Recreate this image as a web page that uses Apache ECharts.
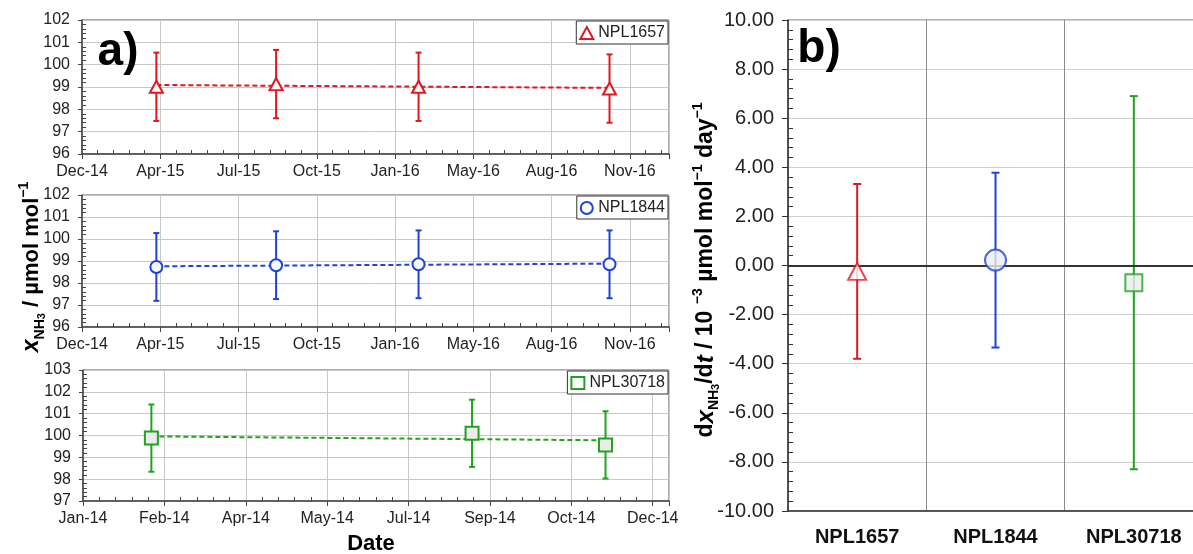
<!DOCTYPE html>
<html>
<head>
<meta charset="utf-8">
<script src="https://cdn.jsdelivr.net/npm/echarts@6/dist/echarts.min.js"></script>
<style>html,body{margin:0;padding:0;background:#fff;overflow:hidden}#c{width:1210px;height:554px}</style>
</head>
<body>
<div id="c"></div>
<script>
// ---------- data ----------
const topDates = ['2015-04-01', '2015-09-01', '2016-03-01', '2016-10-31'];
const topVals = [99.01, 99.13, 99.01, 98.93];
const topErr = [1.53, 1.53, 1.53, 1.53];
const topTrend = [99.09, 98.96];
const topTicks = ['Dec-14', 'Apr-15', 'Jul-15', 'Oct-15', 'Jan-16', 'May-16', 'Aug-16', 'Nov-16'];

const midDates = ['2015-04-01', '2015-09-01', '2016-03-01', '2016-10-31'];
const midVals = [98.73, 98.81, 98.85, 98.85];
const midErr = [1.54, 1.54, 1.54, 1.54];
const midTrend = [98.76, 98.88];
const midTicks = ['Dec-14', 'Apr-15', 'Jul-15', 'Oct-15', 'Jan-16', 'May-16', 'Aug-16', 'Nov-16'];

const botDates = ['2014-02-12', '2014-08-28', '2014-11-18'];
const botVals = [99.88, 100.10, 99.57];
const botErr = [1.54, 1.54, 1.54];
const botTrend = [99.96, 99.78];
const botTicks = ['Jan-14', 'Feb-14', 'Apr-14', 'May-14', 'Jul-14', 'Sep-14', 'Oct-14', 'Dec-14'];

const rateCats = ['NPL1657', 'NPL1844', 'NPL30718'];
const rateVals = [-0.24, 0.22, -0.70];
const rateErr = [3.56, 3.56, 7.60];
const rateTicks = ['-10.00', '-8.00', '-6.00', '-4.00', '-2.00', '0.00', '2.00', '4.00', '6.00', '8.00', '10.00'];

// ---------- helpers ----------
const RED = '#e3161d', BLUE = '#1f42d8', GREEN = '#1fa320';
const FONT = '"Liberation Sans", Arial, sans-serif';
function serial(s) { const p = s.split('-').map(Number); return Date.UTC(p[0], p[1] - 1, p[2]) / 86400000 + 25569; }
function tickFmt(ticks, min, step) {
  return function (v) { const k = (v - min) / step; return Math.abs(k - Math.round(k)) < 1e-6 ? (ticks[Math.round(k)] || '') : ''; };
}
function errRender(color, cap, lw) {
  return function (params, api) {
    const x = api.value(0), lo = api.value(1), hi = api.value(2);
    const a = api.coord([x, lo]), b = api.coord([x, hi]);
    const st = { stroke: color, lineWidth: lw };
    return { type: 'group', children: [
      { type: 'line', shape: { x1: a[0], y1: a[1], x2: b[0], y2: b[1] }, style: st },
      { type: 'line', shape: { x1: a[0] - cap, y1: a[1], x2: a[0] + cap, y2: a[1] }, style: st },
      { type: 'line', shape: { x1: b[0] - cap, y1: b[1], x2: b[0] + cap, y2: b[1] }, style: st }
    ] };
  };
}
// decorative axis that only carries inward minor ticks
function minorAxis(gridIndex, pos, min, max, interval, len, color) {
  return {
    type: 'value', gridIndex: gridIndex, position: pos, offset: 0, min: min, max: max, interval: interval,
    axisLine: { show: false, onZero: false }, axisLabel: { show: false }, splitLine: { show: false },
    axisTick: { show: false, inside: true },
    minorTick: { show: true, splitNumber: 5, length: len, lineStyle: { color: color } },
    silent: true
  };
}

const panels = [
  { dates: topDates, vals: topVals, err: topErr, trend: topTrend, ticks: topTicks, xmin: 42000, xmax: 42750, step: 100, ymin: 96, ymax: 102,
    color: RED, name: 'NPL1657', symbol: 'triangle', size: [13, 12], fill: '#ffffff', top: 20, h: 134, left: 82 },
  { dates: midDates, vals: midVals, err: midErr, trend: midTrend, ticks: midTicks, xmin: 42000, xmax: 42750, step: 100, ymin: 96, ymax: 102,
    color: BLUE, name: 'NPL1844', symbol: 'circle', size: 12, fill: '#f7f7f7', top: 195, h: 132, left: 82 },
  { dates: botDates, vals: botVals, err: botErr, trend: botTrend, ticks: botTicks, xmin: 41640, xmax: 42000, step: 50, ymin: 97, ymax: 103,
    color: GREEN, name: 'NPL30718', symbol: 'rect', size: 13, fill: '#ececec', top: 370, h: 131, left: 83 }
];

const grid = [], xAxis = [], yAxis = [], series = [], legend = [];
const extraX = [], extraY = [];
panels.forEach(function (p, i) {
  grid.push({ left: p.left, width: 669 - p.left, top: p.top, height: p.h, show: true, borderColor: '#555', borderWidth: 1, backgroundColor: '#fff' });
  xAxis.push({
    type: 'value', gridIndex: i, position: 'bottom', min: p.xmin, max: p.xmax, interval: p.step,
    axisLine: { onZero: false, lineStyle: { color: '#444', width: 1.5 } },
    axisTick: { show: true, length: 5, lineStyle: { color: '#444' } },
    splitLine: { show: true, lineStyle: { color: '#c8c8c8', width: 1 } },
    axisLabel: { formatter: tickFmt(p.ticks, p.xmin, p.step), fontFamily: FONT, fontSize: 16, color: '#222', margin: 10 }
  });
  yAxis.push({
    type: 'value', gridIndex: i, position: 'left', min: p.ymin, max: p.ymax, interval: 1,
    axisLine: { show: true, lineStyle: { color: '#444', width: 1.5 } },
    axisTick: { show: true, length: 4, lineStyle: { color: '#444' } },
    splitLine: { show: true, lineStyle: { color: '#c8c8c8', width: 1 } },
    axisLabel: { fontFamily: FONT, fontSize: 16, color: '#222', margin: 12 }
  });
  extraX.push(minorAxis(i, 'bottom', p.xmin, p.xmax, p.step, 4, '#444'));
  extraY.push(minorAxis(i, 'left', p.ymin, p.ymax, 1, 4, '#444'));
  const xs = p.dates.map(serial);
  series.push({
    type: 'custom', xAxisIndex: i, yAxisIndex: i, z: 3, silent: true,
    renderItem: errRender(p.color, 3, 2),
    encode: { x: 0, y: [1, 2] },
    data: xs.map(function (x, k) { return [x, p.vals[k] - p.err[k], p.vals[k] + p.err[k]]; })
  });
  series.push({
    type: 'line', xAxisIndex: i, yAxisIndex: i, z: 4, silent: true, symbol: 'none',
    lineStyle: { color: p.color, width: 2, type: [5, 3] },
    data: [[xs[0], p.trend[0]], [xs[xs.length - 1], p.trend[1]]]
  });
  series.push({
    type: 'scatter', name: p.name, xAxisIndex: i, yAxisIndex: i, z: 5,
    symbol: p.symbol, symbolSize: p.size,
    itemStyle: { color: p.fill, borderColor: p.color, borderWidth: 2, opacity: 1 },
    data: xs.map(function (x, k) { return [x, p.vals[k]]; })
  });
  legend.push({
    data: [{ name: p.name, icon: p.symbol, itemStyle: { color: '#fff', borderColor: p.color, borderWidth: 2 } }],
    right: 1210 - 668, top: p.top + 1, orient: 'horizontal', selectedMode: false,
    itemWidth: 13, itemHeight: 12, padding: [4, 3, 3, 3],
    borderColor: '#333', borderWidth: 1, backgroundColor: '#fff', borderRadius: 0,
    textStyle: { fontFamily: FONT, fontSize: 16, color: '#222' }
  });
});

// right panel (its right end falls just past the picture edge, as in the reference)
grid.push({ left: 788, width: 415, top: 20, height: 491, show: true, borderColor: '#666', borderWidth: 1 });
xAxis.push({
  type: 'category', gridIndex: 3, position: 'bottom', data: rateCats, boundaryGap: true,
  axisLine: { onZero: false, lineStyle: { color: '#333', width: 1.5 } },
  axisTick: { show: false },
  splitLine: { show: true, lineStyle: { color: '#8c8c8c', width: 1 } },
  axisLabel: { fontFamily: FONT, fontSize: 20, fontWeight: 'bold', color: '#111', margin: 16 }
});
yAxis.push({
  type: 'value', gridIndex: 3, position: 'left', min: -10, max: 10, interval: 2,
  axisLine: { show: true, lineStyle: { color: '#333', width: 1.5 } },
  axisTick: { show: true, length: 6, lineStyle: { color: '#333' } },
  splitLine: { show: true, lineStyle: { color: '#cfcfcf', width: 1 } },
  axisLabel: { formatter: tickFmt(rateTicks, -10, 2), fontFamily: FONT, fontSize: 20, color: '#222', margin: 14 }
});
extraY.push(minorAxis(3, 'left', -10, 10, 2, 5, '#333'));

const rateColors = [RED, BLUE, GREEN];
const rateSyms = ['triangle', 'circle', 'rect'];
const rateSizes = [[18, 17], 21, 17];
const rateFills = ['#ffffff', '#ececec', '#ececec'];
series.push({
  type: 'custom', xAxisIndex: 3, yAxisIndex: 3, z: 3, silent: true,
  renderItem: function (params, api) {
    return errRender(rateColors[params.dataIndex], 4, 2)(params, api);
  },
  encode: { x: 0, y: [1, 2] },
  data: rateVals.map(function (v, k) { return [k, v - rateErr[k], v + rateErr[k]]; }),
  markLine: {
    silent: true, symbol: 'none', label: { show: false },
    lineStyle: { color: '#333', width: 2, type: 'solid' },
    data: [{ yAxis: 0 }]
  }
});
series.push({
  type: 'scatter', name: 'rates', xAxisIndex: 3, yAxisIndex: 3, z: 5,
  data: rateVals.map(function (v, k) {
    return { value: [k, v], symbol: rateSyms[k], symbolSize: rateSizes[k],
      itemStyle: { color: rateFills[k], borderColor: rateColors[k], borderWidth: 2 } };
  })
});

const B = { fontFamily: FONT, fontWeight: 'bold', fill: '#000' };
function richSet(size) {
  return {
    i: { fontFamily: FONT, fontWeight: 'bold', fontStyle: 'italic', fontSize: size + 1, lineHeight: 30, verticalAlign: 'middle', fill: '#000' },
    b: { fontFamily: FONT, fontWeight: 'bold', fontSize: size, lineHeight: 30, verticalAlign: 'middle', fill: '#000' },
    s: { fontFamily: FONT, fontWeight: 'bold', fontSize: 14, lineHeight: 16, verticalAlign: 'bottom', fill: '#000' },
    ss: { fontFamily: FONT, fontWeight: 'bold', fontSize: 11, lineHeight: 10, verticalAlign: 'bottom', fill: '#000' },
    p: { fontFamily: FONT, fontWeight: 'bold', fontSize: 14, lineHeight: 26, verticalAlign: 'top', fill: '#000' }
  };
}
const graphic = [
  { type: 'text', x: 118, y: 52, z: 100, style: Object.assign({ text: 'a)', fontSize: 46, align: 'center', verticalAlign: 'middle' }, B) },
  { type: 'text', x: 819, y: 49, z: 100, style: Object.assign({ text: 'b)', fontSize: 46, align: 'center', verticalAlign: 'middle' }, B) },
  { type: 'text', x: 371, y: 544, z: 100, style: Object.assign({ text: 'Date', fontSize: 22, align: 'center', verticalAlign: 'middle' }, B) },
  { type: 'text', x: 32, y: 267, rotation: Math.PI / 2, z: 100,
    style: { text: '{i|x}{s|NH}{ss|3}{b| / µmol mol}{p|−1}', align: 'center', verticalAlign: 'middle', rich: richSet(22) } },
  { type: 'text', x: 706, y: 270, rotation: Math.PI / 2, z: 100,
    style: { text: '{b|d}{i|x}{s|NH}{ss|3}{b|/d}{i|t}{b| / 10 }{p|−3}{b| µmol mol}{p|−1}{b| day}{p|−1}', align: 'center', verticalAlign: 'middle', rich: richSet(23) } }
];

const chart = echarts.init(document.getElementById('c'), null, { renderer: 'canvas' });
chart.setOption({
  animation: false,
  backgroundColor: '#fff',
  textStyle: { fontFamily: FONT },
  grid: grid, xAxis: xAxis.concat(extraX), yAxis: yAxis.concat(extraY), series: series, legend: legend, graphic: graphic
});
</script>
</body>
</html>
